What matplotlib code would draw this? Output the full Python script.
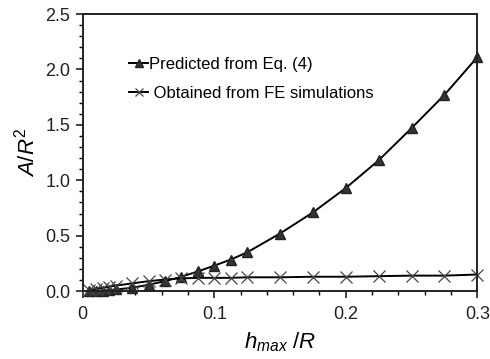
import matplotlib
matplotlib.use("Agg")
import matplotlib.pyplot as plt
from matplotlib.ticker import MultipleLocator

plt.rcParams['font.family'] = ['Liberation Sans', 'DejaVu Sans']
plt.rcParams['mathtext.fontset'] = 'custom'
plt.rcParams['mathtext.it'] = 'Liberation Sans:italic'
plt.rcParams['mathtext.rm'] = 'Liberation Sans'
plt.rcParams['axes.spines.top'] = True
plt.rcParams['axes.spines.right'] = True

# h_max / R
h_ratio = [0.005, 0.01, 0.015, 0.02, 0.025, 0.0375, 0.05, 0.0625, 0.075, 0.0875,
           0.1, 0.1125, 0.125, 0.15, 0.175, 0.2, 0.225, 0.25, 0.275, 0.3]
# A / R^2 predicted from Eq. (4)
predicted = [0.001, 0.002, 0.005, 0.009, 0.015, 0.03, 0.058, 0.09, 0.13, 0.178,
             0.23, 0.285, 0.35, 0.52, 0.71, 0.93, 1.18, 1.47, 1.77, 2.11]
# A / R^2 obtained from FE simulations
fe_sim = [0.01, 0.02, 0.03, 0.04, 0.05, 0.07, 0.09, 0.105, 0.115, 0.12,
          0.12, 0.12, 0.125, 0.125, 0.13, 0.13, 0.135, 0.14, 0.14, 0.15]

x_ticks = [0, 0.1, 0.2, 0.3]
x_labels = ['0', '0.1', '0.2', '0.3']
y_ticks = [0, 0.5, 1.0, 1.5, 2.0, 2.5]
y_labels = ['0.0', '0.5', '1.0', '1.5', '2.0', '2.5']

fig, ax = plt.subplots(figsize=(4.9, 3.59), dpi=100)
fig.subplots_adjust(left=0.169, right=0.974, top=0.961, bottom=0.189)

ax.plot(h_ratio, predicted, color='black', linewidth=1.4, marker='^', markersize=7,
        markerfacecolor='#333333', markeredgecolor='#222222', label='Predicted from Eq. (4)',
        clip_on=False, zorder=3)
ax.plot(h_ratio, fe_sim, color='black', linewidth=1.4, marker='x', markersize=8,
        markeredgecolor='#444444', markeredgewidth=0.9, label=' Obtained from FE simulations',
        clip_on=False, zorder=3)

ax.set_xlim(0, 0.3)
ax.set_ylim(0, 2.5)
ax.set_xticks(x_ticks)
ax.set_xticklabels(x_labels)
ax.set_yticks(y_ticks)
ax.set_yticklabels(y_labels)
ax.xaxis.set_minor_locator(MultipleLocator(0.02))
ax.yaxis.set_minor_locator(MultipleLocator(0.1))
ax.tick_params(which='major', direction='out', length=5, width=1.2, labelsize=13,
               colors='#222222', pad=6)
ax.tick_params(which='minor', direction='out', length=3, width=1)
ax.tick_params(axis='y', pad=4)
for side in ['left', 'bottom', 'top', 'right']:
    ax.spines[side].set_visible(True)
    ax.spines[side].set_linewidth(1.4)
    ax.spines[side].set_color('#222222')
    ax.spines[side].set_zorder(5)

ax.set_xlabel(r'$h_{max}$ /$R$', fontsize=16, labelpad=5)
ax.set_ylabel(r'$A/R^2$', fontsize=16, labelpad=4)

ax.legend(loc='upper left', bbox_to_anchor=(0.08, 0.9), frameon=False, fontsize=12,
          handlelength=1.1, handletextpad=0.1, labelspacing=0.85, markerscale=0.75)

fig.savefig('out.png', dpi=100)
